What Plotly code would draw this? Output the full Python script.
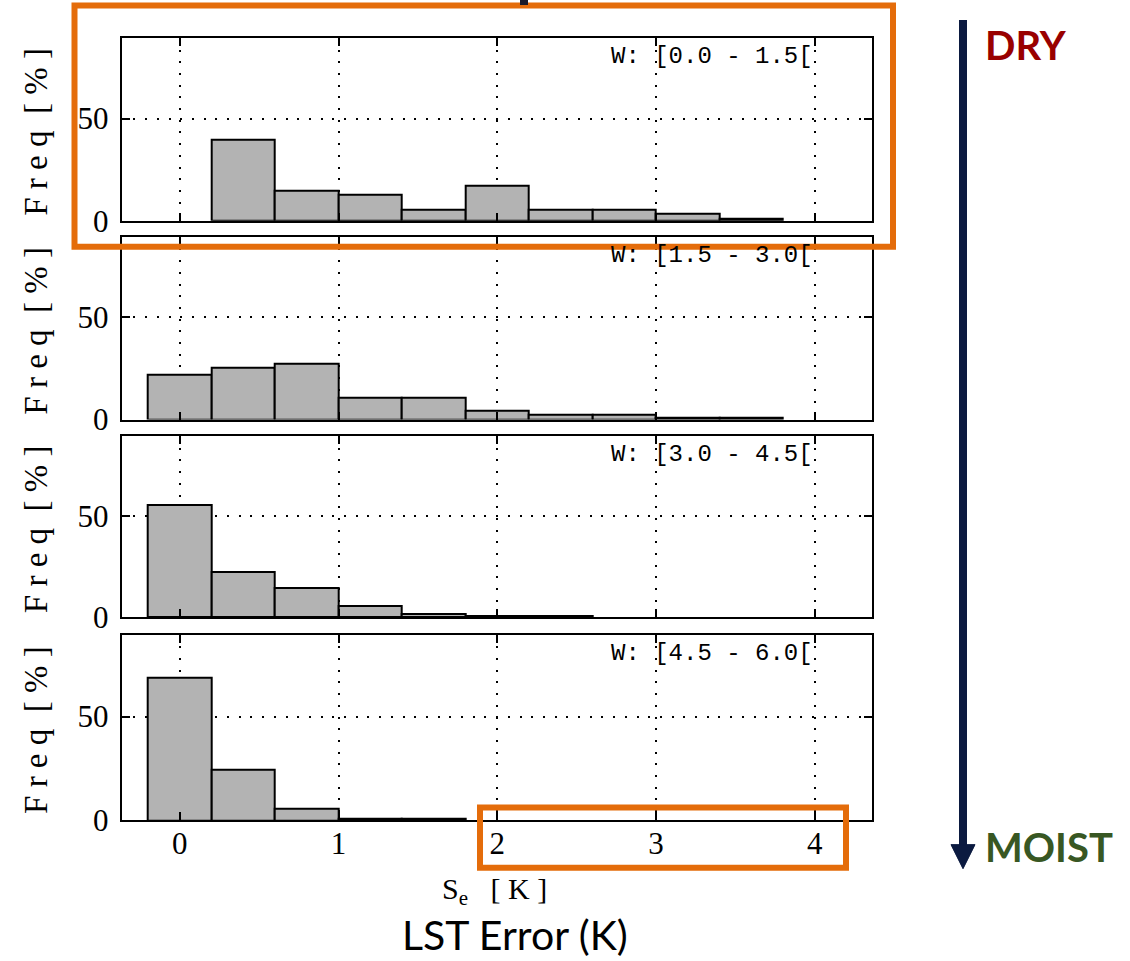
import plotly.graph_objects as go

# ---------------- data ----------------
bin_centers = [0.0, 0.4, 0.8, 1.2, 1.6, 2.0, 2.4, 2.8, 3.2, 3.6]
bin_width = 0.4
freq_w1 = [None, 39.5, 14.5, 12.5, 5.5, 17.0, 5.5, 5.5, 3.5, 1.0]
freq_w2 = [21.8, 25.5, 27.5, 10.5, 10.5, 4.5, 2.2, 2.2, 1.0, 1.0]
freq_w3 = [55.5, 22.5, 14.5, 5.5, 1.8, 0.8, 0.8, None, None, None]
freq_w4 = [69.0, 24.5, 5.5, 0.9, 0.9, None, None, None, None, None]
panel_series = [freq_w1, freq_w2, freq_w3, freq_w4]
panel_labels = ["W: [0.0 - 1.5[", "W: [1.5 - 3.0[", "W: [3.0 - 4.5[", "W: [4.5 - 6.0["]
x_ticks = [0, 1, 2, 3, 4]
x_ticktext = ["0", "1", "2", "3", "4"]
y_ticks = [0, 50]
y_ticktext = ["0", "50"]
y_label = "F r e q  [ % ]"
x_label = "S<sub>e</sub>   [ K ]"
x_caption = "LST Error (K)"
arrow_top_label = "DRY"
arrow_bottom_label = "MOIST"

# ---------------- layout helpers ----------------
W = 1130
H_TARGET = 961
H = 982                 # figure height; picture is mapped vertically onto 961 px
K = H_TARGET / H


def px(x):
    return x / W


def py(y):
    # y in target-picture pixels from top
    return 1 - (y / K) / H


plot_left, plot_right = 121.7, 872.0
panels_px = [(37.7, 220.0), (236.0, 418.3), (434.7, 615.3), (632.7, 817.7)]

MONO = "Liberation Mono, Courier New, monospace"
SERIF = "Liberation Serif, Times New Roman, serif"
SANS = "Lato, Open Sans, sans-serif"

fig = go.Figure()
layout = dict(
    width=W, height=H, margin=dict(l=0, r=0, t=0, b=0),
    paper_bgcolor="white", plot_bgcolor="white", showlegend=False,
    bargap=0,
)

annotations = []
for i, (series, (top, bot)) in enumerate(zip(panel_series, panels_px), start=1):
    xa = "x" if i == 1 else f"x{i}"
    ya = "y" if i == 1 else f"y{i}"
    fig.add_trace(go.Bar(
        x=bin_centers, y=series, width=bin_width,
        marker=dict(color="#B3B3B3", line=dict(color="black", width=2)),
        xaxis=xa, yaxis=ya, hoverinfo="x+y",
    ))
    axis_common = dict(
        showline=True, linecolor="black", linewidth=2, mirror="ticks",
        ticks="inside", ticklen=8, tickwidth=2, tickcolor="black",
        showgrid=True, gridcolor="black", gridwidth=1.6, griddash="2px,9.7px",
        zeroline=False, fixedrange=True,
    )
    layout["xaxis" if i == 1 else f"xaxis{i}"] = dict(
        axis_common, domain=[px(plot_left), px(plot_right)],
        anchor=ya, range=[-0.366, 4.36],
        tickmode="array", tickvals=x_ticks, ticktext=x_ticktext,
        showticklabels=(i == 4), ticklabelstandoff=-5,
        tickfont=dict(family=SERIF, size=31, color="black"),
    )
    layout["yaxis" if i == 1 else f"yaxis{i}"] = dict(
        axis_common, domain=[py(bot), py(top)],
        anchor=xa, range=[0, 89.5],
        tickmode="array", tickvals=y_ticks, ticktext=y_ticktext,
        ticklabelstandoff=5,
        tickfont=dict(family=SERIF, size=31, color="black"),
    )
    # y label
    annotations.append(dict(
        text=y_label, textangle=-90, showarrow=False,
        xref="paper", yref="paper", x=px(36), y=py((top + bot) / 2 + 2.5),
        xanchor="center", yanchor="middle",
        font=dict(family=SERIF, size=33, color="black"),
    ))
    # panel label
    annotations.append(dict(
        text=panel_labels[i - 1], showarrow=False,
        xref=xa, yref="paper", x=4.0, y=py(top), yshift=-3,
        xanchor="right", yanchor="top",
        font=dict(family=MONO, size=24, color="black"),
    ))

annotations += [
    dict(text=x_label, showarrow=False, xref="paper", yref="paper",
         x=px(494), y=py(888), xanchor="center", yanchor="middle",
         font=dict(family=SERIF, size=30, color="black")),
    dict(text=x_caption, showarrow=False, xref="paper", yref="paper",
         x=px(515), y=py(932), xanchor="center", yanchor="middle",
         font=dict(family=SANS, size=41, color="black")),
    dict(text="<b>" + arrow_top_label + "</b>", showarrow=False, xref="paper", yref="paper",
         x=px(983), y=py(45), xanchor="left", yanchor="middle",
         font=dict(family=SANS, size=40, color="#990000")),
    dict(text="<b>" + arrow_bottom_label + "</b>", showarrow=False, xref="paper", yref="paper",
         x=px(983), y=py(844), xanchor="left", yanchor="middle",
         font=dict(family=SANS, size=40, color="#385723")),
]

ORANGE = "#E46C0A"
NAVY = "#0B1A40"
shapes = [
    dict(type="rect", xref="paper", yref="paper",
         x0=px(74.5), x1=px(893), y0=py(5.5), y1=py(246),
         line=dict(color=ORANGE, width=6), layer="above"),
    dict(type="rect", xref="paper", yref="paper",
         x0=px(480), x1=px(846), y0=py(805), y1=py(865),
         line=dict(color=ORANGE, width=6), layer="above"),
    dict(type="line", xref="paper", yref="paper",
         x0=px(963), x1=px(963), y0=py(20), y1=py(848),
         line=dict(color=NAVY, width=8)),
    dict(type="path", xref="paper", yref="paper",
         path=f"M {px(951)},{py(842)} L {px(975)},{py(842)} L {px(963)},{py(866)} Z",
         fillcolor=NAVY, line=dict(color=NAVY, width=1)),
    dict(type="rect", xref="paper", yref="paper",
         x0=px(520), x1=px(528), y0=py(0), y1=py(5),
         fillcolor="#1a1a2a", line=dict(width=0)),
]

layout["annotations"] = annotations
layout["shapes"] = shapes
fig.update_layout(**layout)
fig.write_html("out.html")
